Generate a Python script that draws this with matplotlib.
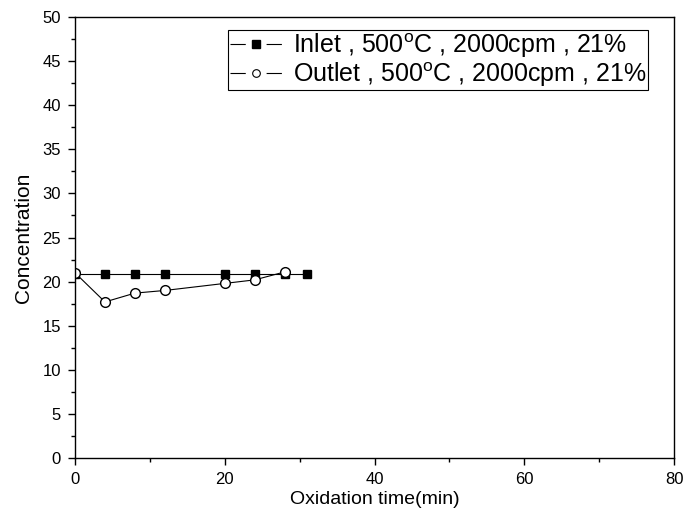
import matplotlib

matplotlib.use("Agg")
import matplotlib.pyplot as plt
from matplotlib.lines import Line2D
from matplotlib.ticker import MultipleLocator

plt.rcParams["font.family"] = ["Liberation Sans", "DejaVu Sans"]
plt.rcParams["mathtext.fontset"] = "custom"
plt.rcParams["mathtext.rm"] = "Liberation Sans"
plt.rcParams["lines.scale_dashes"] = False

# data
inlet_time = [0, 4, 8, 12, 20, 24, 28, 31]
inlet_conc = [20.9, 20.9, 20.9, 20.9, 20.9, 20.9, 20.9, 20.9]
outlet_time = [0, 4, 8, 12, 20, 24, 28]
outlet_conc = [21.0, 17.7, 18.7, 19.0, 19.8, 20.2, 21.1]

inlet_label = r"Inlet , 500$^{\mathrm{o}}$C , 2000cpm , 21%"
outlet_label = r"Outlet , 500$^{\mathrm{o}}$C , 2000cpm , 21%"

fig = plt.figure(figsize=(6.85, 5.29), dpi=100)
ax = fig.add_axes([0.1095, 0.134, 0.8745, 0.834])

ax.plot(inlet_time, inlet_conc, color="black", linewidth=0.8,
        marker="s", markersize=6, markerfacecolor="black")
ax.plot(outlet_time, outlet_conc, color="black", linewidth=0.8,
        marker="o", markersize=7, markerfacecolor="white",
        markeredgecolor="black")

ax.set_xlim(0, 80)
ax.set_ylim(0, 50)
ax.xaxis.set_major_locator(MultipleLocator(20))
ax.xaxis.set_minor_locator(MultipleLocator(10))
ax.yaxis.set_major_locator(MultipleLocator(5))
ax.yaxis.set_minor_locator(MultipleLocator(2.5))
ax.tick_params(which="both", direction="out", top=False, right=False,
               labelsize=12, width=1)
ax.tick_params(which="major", length=5, pad=5)
ax.tick_params(which="minor", length=3)
for sp in ax.spines.values():
    sp.set_linewidth(1)

ax.set_xlabel("Oxidation time(min)", fontsize=14, labelpad=3)
ax.set_ylabel("Concentration", fontsize=15, labelpad=7)

# legend handles: line - marker - line with gaps around the marker
dash = (0, (11, 15))
h_in = Line2D([], [], color="black", linewidth=0.8, linestyle=dash,
              marker="s", markersize=5.5, markerfacecolor="black")
h_out = Line2D([], [], color="black", linewidth=0.8, linestyle=dash,
               marker="o", markersize=5.5, markerfacecolor="white",
               markeredgecolor="black", markeredgewidth=0.8)
leg = ax.legend([h_in, h_out], [inlet_label, outlet_label],
                loc="upper right", bbox_to_anchor=(0.957, 0.97),
                fontsize=18, frameon=True, fancybox=False,
                edgecolor="black", framealpha=1, handlelength=2.1,
                handletextpad=0.45, borderpad=0.05, labelspacing=0.0,
                borderaxespad=0.0)
leg.get_frame().set_linewidth(0.8)

fig.savefig("out.png", dpi=100)
